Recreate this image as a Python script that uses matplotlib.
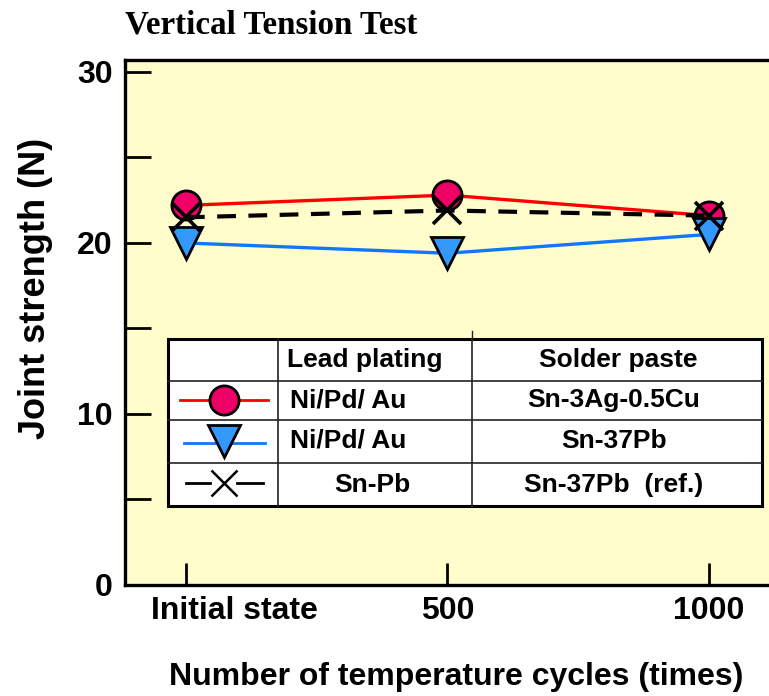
import matplotlib
matplotlib.use("Agg")
import matplotlib.pyplot as plt
from matplotlib.lines import Line2D
from matplotlib.patches import Rectangle
from matplotlib.transforms import ScaledTranslation

# data
categories = ["Initial state", "500", "1000"]
snagcu_nipdau = [22.2, 22.8, 21.6]   # Ni/Pd/Au lead, Sn-3Ag-0.5Cu paste
snpb_nipdau = [20.0, 19.4, 20.5]     # Ni/Pd/Au lead, Sn-37Pb paste
snpb_ref = [21.5, 21.9, 21.6]        # Sn-Pb lead, Sn-37Pb paste (ref.)

legend_rows = [["Ni/Pd/ Au", "Sn-3Ag-0.5Cu"],
               ["Ni/Pd/ Au", "Sn-37Pb"],
               ["Sn-Pb", "Sn-37Pb  (ref.)"]]
legend_head = ["Lead plating", "Solder paste"]

W, H = 769, 696
sans = "Liberation Sans"
fig = plt.figure(figsize=(W / 100, H / 100), dpi=100)

# axes runs off the right side of the picture like the reference
ax = fig.add_axes([125 / W, 111 / H, 675 / W, 525 / H])
ax.set_facecolor("#FFFDCC")
x = list(range(len(categories)))

ax.plot(x, snagcu_nipdau, color="#FF0000", lw=2.4, marker="o", ms=21,
        mfc="#EE0066", mec="black", mew=2, zorder=3)
ax.plot(x, snpb_nipdau, color="#1177FF", lw=2.4, marker="v", ms=23,
        mfc="#3399FF", mec="black", mew=2, zorder=4)
ax.plot(x, snpb_ref, color="black", lw=3, dashes=(4.5, 3), marker="x",
        ms=20, mew=2.6, zorder=5)

ax.set_xlim(-0.233, 2.348)
ax.set_ylim(0, 30.7)
ax.set_xticks(x)
ax.set_xticklabels(categories)
ax.set_yticks([0, 10, 20, 30])
ax.set_yticks([5, 15, 25], minor=True)
ax.tick_params(axis="both", which="both", direction="in", width=2,
               colors="black")
ax.tick_params(axis="y", which="both", length=19, pad=9)
ax.tick_params(axis="x", length=16, pad=8)
for lab in ax.get_xticklabels():
    lab.set_fontfamily(sans)
    lab.set_fontweight("bold")
    lab.set_fontsize(23)
# first category label sits right of its tick in the reference
first = ax.get_xticklabels()[0]
first.set_transform(first.get_transform() +
                    ScaledTranslation(0.49, 0, fig.dpi_scale_trans))
for lab in ax.get_yticklabels():
    lab.set_fontfamily(sans)
    lab.set_fontweight("bold")
    lab.set_fontsize(23)
for sp in ax.spines.values():
    sp.set_linewidth(2.4)

fig.text(456 / W, 1 - 677 / H, "Number of temperature cycles (times)",
         ha="center", va="center", fontsize=23, fontweight="bold",
         family=sans)
fig.text(36 / W, 1 - 288 / H, "Joint strength (N)", rotation=90,
         ha="center", va="center", fontsize=26, fontweight="bold",
         family=sans)
fig.text(125 / W, 1 - 25 / H, "Vertical Tension Test", ha="left",
         va="center", fontsize=23.8, fontweight="bold",
         family="Liberation Serif")


# legend table, laid out in figure pixels
def fx(px):
    return px / W


def fy(py):
    return 1 - py / H


left, right, top, bottom = 168, 762, 339, 506
col1, col2 = 278, 472
rows = [381, 420, 463]
fig.add_artist(Rectangle((fx(left), fy(bottom)), fx(right) - fx(left),
                         fy(top) - fy(bottom), transform=fig.transFigure,
                         facecolor="white", edgecolor="black", lw=2.2,
                         zorder=10))
for c in (col1, col2):
    fig.add_artist(Line2D([fx(c), fx(c)], [fy(top), fy(bottom)],
                          color="#222222", lw=1.2, zorder=11))
fig.add_artist(Line2D([fx(col2), fx(col2)], [fy(331), fy(top)],
                      color="#222222", lw=1.0, zorder=11))
for r in rows:
    fig.add_artist(Line2D([fx(left), fx(right)], [fy(r), fy(r)],
                          color="#222222", lw=1.2, zorder=11))

txt = dict(fontsize=19, fontweight="bold", family=sans, va="center",
           zorder=12)
fig.text(fx(365), fy(360), legend_head[0], ha="center", **txt)
fig.text(fx(618), fy(360), legend_head[1], ha="center", **txt)
row_y = [400, 441, 485]
lead_x = [290, 290, 334]
for (lead, paste), ry, lx in zip(legend_rows, row_y, lead_x):
    fig.text(fx(lx), fy(ry), lead, ha="left", **txt)
    fig.text(fx(614), fy(ry), paste, ha="center", **txt)

# legend samples
fig.add_artist(Line2D([fx(180), fx(268)], [fy(400), fy(400)],
                      color="#FF0000", lw=2, zorder=12))
fig.add_artist(Line2D([fx(224)], [fy(400)], marker="o", ms=21,
                      mfc="#EE0066", mec="black", mew=2, zorder=13))
fig.add_artist(Line2D([fx(184), fx(265)], [fy(443), fy(443)],
                      color="#1177FF", lw=2, zorder=12))
fig.add_artist(Line2D([fx(224)], [fy(441)], marker="v", ms=23,
                      mfc="#3399FF", mec="black", mew=2, zorder=13))
fig.add_artist(Line2D([fx(186), fx(210)], [fy(483), fy(483)],
                      color="black", lw=2, zorder=12))
fig.add_artist(Line2D([fx(237), fx(263)], [fy(483), fy(483)],
                      color="black", lw=2, zorder=12))
fig.add_artist(Line2D([fx(224)], [fy(483)], marker="x", ms=19,
                      color="black", mew=1.8, zorder=13))

fig.savefig("out.png", dpi=100)
